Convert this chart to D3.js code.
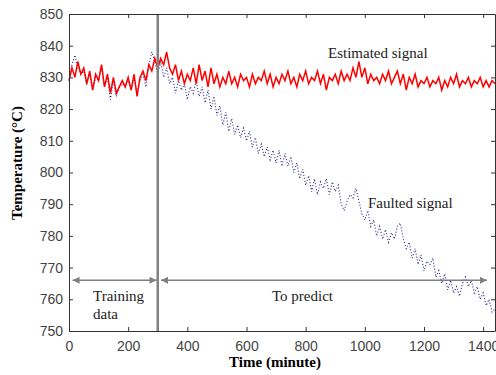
<!DOCTYPE html>
<html>
<head>
<meta charset="utf-8">
<style>
  body { margin: 0; background: #fff; }
  svg { display: block; }
</style>
</head>
<body>
<script src="https://cdn.jsdelivr.net/npm/d3@7"></script>
<script>

  const width = 496,
        height = 375

  const margin = {left: 69, top: 14, right: 1, bottom: 44}
  const w = width - margin.left - margin.right,
        h = height - margin.top - margin.bottom

  const colors = {estimated: '#ff0000', faulted: '#23238c', marker: '#808080', axis: '#333', tick: '#444'}

  // time axis, one sample every 10 minutes (0 ... 1440)
  const step = 10
  const xTicks = [0, 200, 400, 600, 800, 1000, 1200, 1400]
  const yTicks = [750, 760, 770, 780, 790, 800, 810, 820, 830, 840, 850]

  // values
  const estimated = [
    829, 833, 830, 835, 831, 833, 828, 832, 826, 831,
    829, 834, 827, 831, 825, 830, 825, 827, 829, 827,
    830, 826, 831, 824, 830, 832, 829, 834, 832, 836,
    833, 836, 834, 838, 833, 831, 834, 829, 832, 828,
    831, 829, 833, 828, 834, 829, 832, 827, 833, 828,
    831, 827, 830, 828, 832, 828, 830, 827, 831, 829,
    830, 827, 831, 828, 830, 829, 832, 828, 831, 827,
    830, 828, 831, 829, 832, 828, 830, 827, 831, 829,
    832, 828, 830, 829, 832, 828, 831, 826, 830, 829,
    831, 828, 832, 829, 831, 829, 833, 830, 835, 830,
    833, 828, 831, 829, 830, 828, 831, 829, 832, 828,
    830, 832, 828, 831, 826, 830, 828, 831, 827, 829,
    828, 830, 827, 829, 828, 830, 826, 829, 827, 830,
    828, 831, 827, 829, 828, 830, 827, 829, 828, 830,
    827, 829, 827, 829, 828
  ]

  const faulted = [
    829, 834, 837, 833, 831, 832, 828, 831, 826, 830,
    829, 833, 827, 830, 823, 829, 824, 827, 828, 827,
    829, 826, 830, 825, 829, 831, 827, 834, 838, 835,
    831, 835, 830, 833, 828, 830, 825, 829, 826, 828,
    823, 827, 825, 829, 824, 827, 822, 826, 820, 824,
    818, 821, 815, 819, 813, 817, 812, 815, 811, 814,
    810, 813, 808, 811, 806, 809, 805, 808, 804, 807,
    803, 807, 802, 806, 802, 805, 800, 803, 798, 801,
    796, 799, 794, 798, 793, 797, 795, 798, 793, 797,
    794, 796, 790, 788, 791, 793, 792, 795, 791, 787,
    785, 788, 783, 785, 780, 783, 779, 782, 778, 781,
    779, 783, 784, 779, 776, 778, 773, 776, 771, 774,
    769, 772, 771, 773, 767, 769, 765, 768, 763, 766,
    762, 764, 761, 765, 767, 764, 766, 762, 764, 760,
    762, 758, 760, 756, 757
  ]

  const splitTime = 300
  const trainingSpan = [12, 296]
  const predictSpan = [311, 1413]
  const arrowLevel = 766

  const xScale = d3.scaleLinear()
    .domain([0, 1440])
    .range([0, w])

  const yScale = d3.scaleLinear()
    .domain([750, 850])
    .range([h, 0])

  const svg = d3.select("body")
    .append("svg")
      .attr("width", width)
      .attr("height", height)

  svg.append("defs").append("marker")
      .attr("id", "head")
      .attr("viewBox", "0 0 10 10")
      .attr("refX", 10)
      .attr("refY", 5)
      .attr("markerWidth", 10)
      .attr("markerHeight", 7)
      .attr("markerUnits", "userSpaceOnUse")
      .attr("orient", "auto-start-reverse")
    .append("path")
      .attr("d", "M0,0 L10,5 L0,10 Z")
      .attr("fill", colors.marker)

  const chart = svg.append("g")
      .attr("transform", `translate(${margin.left}, ${margin.top})`)

  // signals
  const line = d3.line()
    .x((d, i) => xScale(i * step))
    .y(d => yScale(d))

  chart.append("path")
    .datum(faulted)
    .attr("fill", "none")
    .attr("stroke", colors.faulted)
    .attr("stroke-width", 1.1)
    .attr("stroke-dasharray", "1,2")
    .attr("d", line)

  chart.append("path")
    .datum(estimated)
    .attr("fill", "none")
    .attr("stroke", colors.estimated)
    .attr("stroke-width", 1.5)
    .attr("d", line)

  // separation line
  chart.append("line")
    .attr("x1", xScale(splitTime)).attr("x2", xScale(splitTime))
    .attr("y1", 0).attr("y2", h)
    .attr("stroke", colors.marker)
    .attr("stroke-width", 2.5)

  // arrows
  ;[trainingSpan, predictSpan].forEach(s => {
    chart.append("line")
      .attr("x1", xScale(s[0])).attr("x2", xScale(s[1]))
      .attr("y1", yScale(arrowLevel)).attr("y2", yScale(arrowLevel))
      .attr("stroke", colors.marker)
      .attr("stroke-width", 1.5)
      .attr("marker-start", "url(#head)")
      .attr("marker-end", "url(#head)")
  })

  // axes, ticks inside on all four sides
  const axisStyle = g => {
    g.select(".domain").attr("stroke", colors.axis).attr("stroke-width", 1)
    g.selectAll(".tick line").attr("stroke", colors.axis)
    g.selectAll(".tick text")
      .attr("fill", colors.tick)
      .style("font-family", "Liberation Sans, Arial, sans-serif")
      .style("font-size", "14px")
  }

  chart.append("g")
    .attr("transform", `translate(0, ${h})`)
    .call(d3.axisBottom(xScale).tickValues(xTicks).tickFormat(d3.format("d"))
      .tickSizeInner(-4).tickSizeOuter(0).tickPadding(10))
    .call(axisStyle)

  chart.append("g")
    .call(d3.axisTop(xScale).tickValues(xTicks).tickSizeInner(-4).tickSizeOuter(0).tickFormat(""))
    .call(axisStyle)

  chart.append("g")
    .call(d3.axisLeft(yScale).tickValues(yTicks).tickFormat(d3.format("d"))
      .tickSizeInner(-4).tickSizeOuter(0).tickPadding(6))
    .call(axisStyle)

  chart.append("g")
    .attr("transform", `translate(${w}, 0)`)
    .call(d3.axisRight(yScale).tickValues(yTicks).tickSizeInner(-4).tickSizeOuter(0).tickFormat(""))
    .call(axisStyle)

  // labels
  const serif = "Liberation Serif, Times New Roman, serif"

  svg.append("text")
    .attr("x", 275).attr("y", 367)
    .style("text-anchor", "middle")
    .style("font-family", serif)
    .style("font-weight", "bold")
    .style("font-size", "15px")
    .text("Time (minute)")

  svg.append("text")
    .attr("transform", `translate(22, 163) rotate(-90)`)
    .style("text-anchor", "middle")
    .style("font-family", serif)
    .style("font-weight", "bold")
    .style("font-size", "15px")
    .text("Temperature (°C)")

  const notes = [
    {text: "Estimated signal", x: 328, y: 58},
    {text: "Faulted signal", x: 368, y: 208},
    {text: "Training", x: 93, y: 301},
    {text: "data", x: 93, y: 319},
    {text: "To predict", x: 272, y: 301}
  ]

  svg.selectAll(".note")
    .data(notes)
    .enter()
    .append("text")
      .attr("class", "note")
      .attr("x", d => d.x)
      .attr("y", d => d.y)
      .style("font-family", serif)
      .style("font-size", "15px")
      .attr("fill", "#222")
      .text(d => d.text)

</script>
</body>
</html>
